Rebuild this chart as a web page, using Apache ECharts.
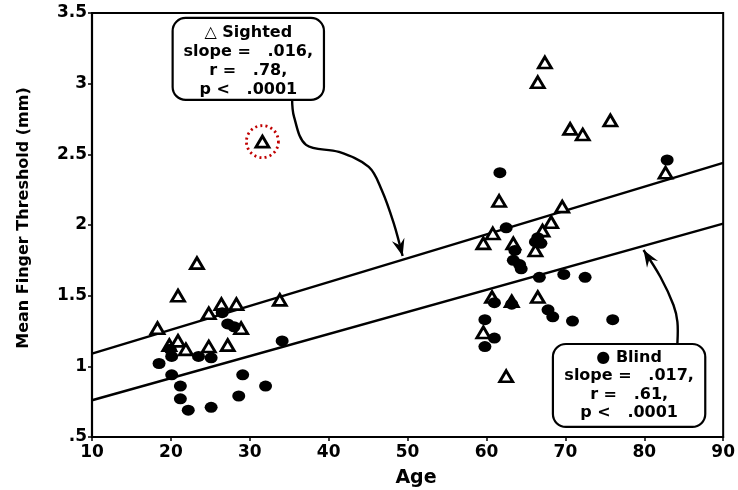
<!DOCTYPE html>
<html>
<head>
<meta charset="utf-8">
<script src="https://cdn.jsdelivr.net/npm/echarts@6/dist/echarts.min.js"></script>
<style>
  html, body { margin: 0; padding: 0; background: #fff; }
  #chart { width: 738px; height: 490px; }
</style>
</head>
<body>
<div id="chart"></div>
<script>
// age ticks / threshold ticks
const ageRange = [10, 90];
const thresholdRange = [0.5, 3.5];

// sighted subjects (open triangles): [age, mean finger threshold mm]
const sighted = [
  [18.3, 1.27], [20.9, 1.50], [23.3, 1.73], [19.8, 1.15], [20.9, 1.18], [21.9, 1.12],
  [24.8, 1.375], [24.8, 1.14], [26.4, 1.44], [28.3, 1.44], [28.9, 1.27], [27.2, 1.15],
  [33.8, 1.47], [31.6, 2.59],
  [67.4, 3.15], [66.5, 3.01], [70.6, 2.68], [72.2, 2.64], [75.7, 2.74], [82.7, 2.37],
  [61.6, 2.17], [69.6, 2.13], [68.2, 2.02], [67.1, 1.96], [60.8, 1.94], [59.6, 1.87],
  [63.4, 1.87], [66.2, 1.82], [60.7, 1.49], [63.2, 1.46], [66.5, 1.49], [59.6, 1.24],
  [62.5, 0.93]
];

// blind subjects (filled circles)
const blind = [
  [18.5, 1.02], [20.1, 1.07], [19.9, 1.12], [20.1, 0.94], [21.2, 0.86], [21.2, 0.77],
  [22.2, 0.69], [23.5, 1.07], [25.1, 1.06], [25.1, 0.71], [26.5, 1.38], [27.2, 1.30],
  [28.0, 1.28], [29.1, 0.94], [28.6, 0.79], [32.0, 0.86], [34.1, 1.18],
  [61.7, 2.37], [82.9, 2.46], [62.5, 1.98], [66.5, 1.91], [66.9, 1.87], [66.2, 1.88],
  [63.6, 1.82], [63.4, 1.75], [64.2, 1.72], [64.4, 1.69], [66.7, 1.63], [69.8, 1.65],
  [72.5, 1.63], [61.0, 1.45], [63.2, 1.44], [67.8, 1.40], [68.4, 1.35], [70.9, 1.32],
  [76.0, 1.33], [59.8, 1.33], [61.0, 1.20], [59.8, 1.14]
];

// regression lines
const sightedFit = [[10, 1.09], [90, 2.44]];
const blindFit = [[10, 0.76], [90, 2.01]];

// circled outlier
const outlier = [[31.6, 2.59]];

// annotation texts
const sightedNote = ['△ Sighted', 'slope =   .016,', 'r =   .78,', 'p <   .0001'];
const blindNote = ['● Blind', 'slope =   .017,', 'r =   .61,', 'p <   .0001'];

// annotation anchors in data space
const sightedBox = [[20.22, 3.465], [39.4, 2.885]];
const blindBox = [[68.42, 1.158], [87.73, 0.571]];
const sightedTextAt = [29.81, 3.157];
const blindTextAt = [78.08, 0.864];
const sightedArrow = [[35.36, 2.899], [35.61, 2.765], [37.13, 2.567], [41.29, 2.517],
  [45.08, 2.411], [46.72, 2.248], [48.23, 2.015], [49.37, 1.781]];
const blindArrow = [[84.2, 1.165], [84.2, 1.314], [83.7, 1.434], [82.05, 1.632], [79.9, 1.823]];

const FONT = '"DejaVu Sans", sans-serif';
const chart = echarts.init(document.getElementById('chart'));

chart.setOption({
  animation: false,
  grid: { left: 92, right: 12, top: 13, bottom: 53, show: true, borderColor: '#000', borderWidth: 2 },
  xAxis: {
    type: 'value', min: ageRange[0], max: ageRange[1], interval: 10,
    axisLine: { lineStyle: { color: '#000', width: 2.2 } },
    axisTick: { length: 4, lineStyle: { color: '#000', width: 1.5 } },
    axisLabel: { color: '#000', fontFamily: FONT, fontWeight: 'bold', fontSize: 17, margin: 7 },
    splitLine: { show: false }
  },
  yAxis: {
    type: 'value', min: thresholdRange[0], max: thresholdRange[1], interval: 0.5,
    axisLine: { lineStyle: { color: '#000', width: 2.2 } },
    axisTick: { length: 4, lineStyle: { color: '#000', width: 1.5 } },
    axisLabel: {
      color: '#000', fontFamily: FONT, fontWeight: 'bold', fontSize: 17, margin: 5,
      formatter: v => v === 0.5 ? '.5' : String(v)
    },
    splitLine: { show: false }
  },
  series: [
    { type: 'line', data: sightedFit, symbol: 'none', lineStyle: { color: '#000', width: 2.4 }, z: 1 },
    { type: 'line', data: blindFit, symbol: 'none', lineStyle: { color: '#000', width: 2.4 }, z: 1 },
    {
      name: 'Sighted', type: 'scatter', data: sighted, symbol: 'triangle', symbolSize: [13, 11],
      itemStyle: { color: '#fff', borderColor: '#000', borderWidth: 2.8, opacity: 1 }, z: 3
    },
    {
      name: 'Blind', type: 'scatter', data: blind, symbol: 'circle', symbolSize: [13, 11],
      itemStyle: { color: '#000', opacity: 1 }, z: 4
    },
    {
      type: 'scatter', data: outlier, symbol: 'circle', symbolSize: 32, silent: true,
      itemStyle: { color: 'rgba(0,0,0,0)', borderColor: '#c00000', borderWidth: 2.8, borderType: [2, 3.2], opacity: 1 }, z: 5
    }
  ]
});

// annotations placed after the grid exists
const px = p => chart.convertToPixel({ gridIndex: 0 }, p);

function arrowHead(tip, from, len, half) {
  const dx = tip[0] - from[0], dy = tip[1] - from[1];
  const d = Math.hypot(dx, dy), ux = dx / d, uy = dy / d;
  const bx = tip[0] - ux * len, by = tip[1] - uy * len;
  const nx = tip[0] - ux * len * 0.65, ny = tip[1] - uy * len * 0.65;
  return [tip, [bx - uy * half, by + ux * half], [nx, ny], [bx + uy * half, by - ux * half]];
}

function note(box, textAt, lines, lineH, arrow) {
  const a = px(box[0]), b = px(box[1]);
  const t = px(textAt);
  const pts = arrow.map(px);
  return [
    { type: 'polyline', shape: { points: pts, smooth: 0.35 }, style: { stroke: '#000', lineWidth: 2.4, fill: null }, z: 10 },
    { type: 'polygon', shape: { points: arrowHead(pts[pts.length - 1], pts[pts.length - 2], 17, 6.5) }, style: { fill: '#000' }, z: 10 },
    {
      type: 'rect', shape: { x: a[0], y: a[1], width: b[0] - a[0], height: b[1] - a[1], r: 13 },
      style: { fill: '#fff', stroke: '#000', lineWidth: 2.2 }, z: 11
    },
    {
      type: 'text', x: t[0], y: t[1], z: 12,
      style: { text: lines.join('\n'), font: 'bold 16px ' + FONT, fill: '#000', align: 'center', verticalAlign: 'middle', lineHeight: lineH }
    }
  ];
}

chart.setOption({
  graphic: [
    ...note(sightedBox, sightedTextAt, sightedNote, 19, sightedArrow),
    ...note(blindBox, blindTextAt, blindNote, 18.5, blindArrow),
    {
      type: 'text', x: 24, y: 218, rotation: Math.PI / 2,
      style: { text: 'Mean Finger Threshold (mm)', font: 'bold 16px ' + FONT, fill: '#000', align: 'center', verticalAlign: 'middle' }
    },
    {
      type: 'text', x: 416, y: 478,
      style: { text: 'Age', font: 'bold 19px ' + FONT, fill: '#000', align: 'center', verticalAlign: 'middle' }
    }
  ]
});
</script>
</body>
</html>
